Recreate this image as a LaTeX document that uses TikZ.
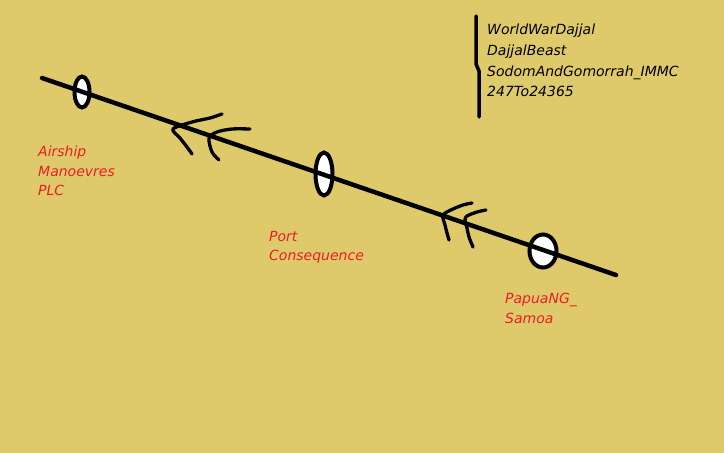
\documentclass[tikz,border=0pt]{standalone}
\usepackage{fontspec}
\setmainfont{DejaVu Sans}
\usetikzlibrary{shapes.geometric}
\definecolor{mustard}{RGB}{223,202,107}
\definecolor{paintred}{RGB}{237,28,36}
\tikzset{
    station/.style={draw, ellipse, fill=white, line width=4pt, inner sep=0pt},
    route/.style={line width=4.5pt, line cap=round},
    chev/.style={line width=3.3pt, line cap=round, line join=round},
    place/.style={text=paintred, font=\fontsize{14}{19.5}\selectfont\itshape, align=left, inner sep=0pt, anchor=north west},
}

\begin{document}
\begin{tikzpicture}[x=1pt,y=-1pt]
                \useasboundingbox (0,0) rectangle (724,453);
                \fill[mustard] (0,0) rectangle (724,453);
                % stations
                \node[station, minimum width=15pt, minimum height=31pt] at (82,92) (airship) {};
                \node[station, minimum width=17pt, minimum height=43pt] at (324,174) (portc) {};
                \node[station, minimum width=27pt, minimum height=33pt] at (543,251) (papua) {};
                \coordinate (lineW) at (42,78);
                \coordinate (lineE) at (616,275);
                \draw[route] (lineW) -- (lineE);
                % direction marks
                \draw[chev] plot[smooth] coordinates {(222,114) (210,118) (192,122) (173,129) (180,138) (187,147) (192,154)};
                \draw[chev] plot[smooth] coordinates {(250,129) (232,129) (217,132) (209,138) (212,152) (219,160)};
                \draw[chev] plot[smooth] coordinates {(472,203) (463,205) (453,209) (443,215) (445,225) (447,233) (449,240)};
                \draw[chev] plot[smooth] coordinates {(486,210) (477,212) (467,216) (465,220) (467,228) (469,237) (473,247)};
                % labels
                \node[place] at (38,146) (airtxt) {Airship\\Manoevres\\PLC};
                \node[place] at (269,231) (porttxt) {Port\\Consequence};
                \node[place] at (505,293) (papuatxt) {PapuaNG\_\\Samoa};
                \draw[line width=3.5pt, line cap=round] (476,16) -- (476,64) -- (479,71) -- (479,117);
                \node[place, text=black, font=\fontsize{14}{20.7}\selectfont\itshape] at (487,24) (tags) {WorldWarDajjal\\DajjalBeast\\SodomAndGomorrah\_IMMC\\247To24365};
            \end{tikzpicture}
\end{document}
